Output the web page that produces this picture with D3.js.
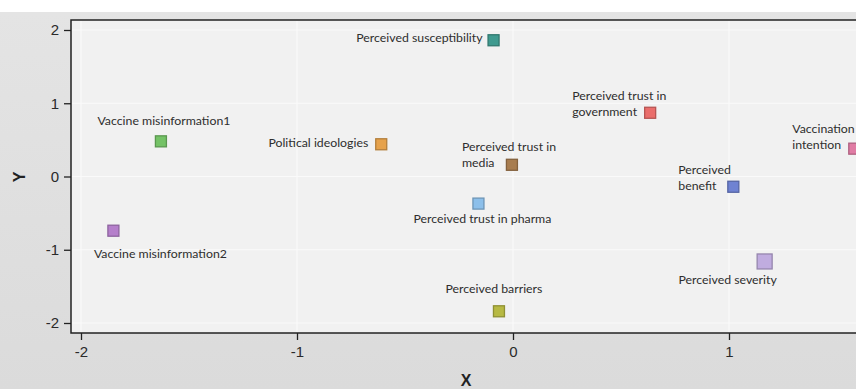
<!DOCTYPE html>
<html>
<head>
<meta charset="utf-8">
<script src="https://cdn.jsdelivr.net/npm/d3@7"></script>
<style>
  html, body { margin: 0; padding: 0; background: #fff; }
  svg { display: block; }
</style>
</head>
<body>
<svg id="chart" width="856" height="389"></svg>
<script>
// factor names, coordinates
const names = ["Perceived susceptibility", "Vaccine misinformation1", "Vaccine misinformation2",
  "Political ideologies", "Perceived trust in media", "Perceived trust in pharma",
  "Perceived barriers", "Perceived trust in government", "Vaccination intention",
  "Perceived benefit", "Perceived severity"];
const xs = [-0.09, -1.63, -1.85, -0.61, -0.005, -0.16, -0.065, 0.635, 1.58, 1.02, 1.165];
const ys = [1.86, 0.48, -0.74, 0.44, 0.16, -0.37, -1.84, 0.87, 0.38, -0.14, -1.16];
const colors = ["#3f9a8f", "#74c266", "#b57fcb", "#e6a24c", "#a87d50", "#8cbfea",
  "#b7b943", "#ea6d6b", "#e07ca4", "#6f82d2", "#c0acdf"];
const xTicks = [-2, -1, 0, 1];
const yTicks = [-2, -1, 0, 1, 2];

const svg = d3.select("#chart");
const W = 856, H = 389;
const plot = {left: 71, top: 20, right: 870, bottom: 333};

const x = d3.scaleLinear().domain([-2, 1]).range([81, 729]);
const y = d3.scaleLinear().domain([-2, 2]).range([323, 30]);

//Backgrounds
const grad = svg.append("defs").append("linearGradient")
  .attr("id", "bg").attr("x1", 0).attr("y1", 0).attr("x2", 0).attr("y2", 1);
grad.append("stop").attr("offset", "0%").attr("stop-color", "#e4e4e4");
grad.append("stop").attr("offset", "100%").attr("stop-color", "#dbdbdb");

svg.append("rect").attr("x", 0).attr("y", 12).attr("width", W).attr("height", H - 12)
  .attr("fill", "url(#bg)");
svg.append("rect").attr("x", plot.left).attr("y", plot.top)
  .attr("width", plot.right - plot.left).attr("height", plot.bottom - plot.top)
  .attr("fill", "#f1f1f1").attr("stroke", "#222").attr("stroke-width", 1.5);

//Grid
const grid = svg.append("g").attr("stroke", "#fafafa").attr("stroke-width", 1.2);
grid.selectAll(".gx").data(xTicks).enter().append("line")
  .attr("x1", d => x(d)).attr("x2", d => x(d))
  .attr("y1", plot.top + 1).attr("y2", plot.bottom - 1);
grid.selectAll(".gy").data(yTicks).enter().append("line")
  .attr("x1", plot.left + 1).attr("x2", W)
  .attr("y1", d => y(d)).attr("y2", d => y(d));

//Axes
const axisFont = "'Liberation Sans', Arial, sans-serif";
const fmt = d => String(d);
const xAxis = svg.append("g").attr("transform", `translate(0,${plot.bottom})`)
  .call(d3.axisBottom(x).tickValues(xTicks).tickFormat(fmt).tickSize(7).tickSizeOuter(0).tickPadding(6));
const yAxis = svg.append("g").attr("transform", `translate(${plot.left},0)`)
  .call(d3.axisLeft(y).tickValues(yTicks).tickFormat(fmt).tickSize(7).tickSizeOuter(0).tickPadding(5));
[xAxis, yAxis].forEach(a => {
  a.select(".domain").remove();
  a.selectAll("line").attr("stroke", "#222").attr("stroke-width", 1.3);
  a.selectAll("text").attr("fill", "#2a2a2a").style("font-family", axisFont).style("font-size", "15px");
});

svg.append("text").attr("x", 466).attr("y", 386).attr("text-anchor", "middle")
  .style("font-family", axisFont).style("font-size", "16px").style("font-weight", "bold")
  .attr("fill", "#222").text("X");
svg.append("text").attr("transform", "translate(25,177) rotate(-90)").attr("text-anchor", "middle")
  .style("font-family", axisFont).style("font-size", "16px").style("font-weight", "bold")
  .attr("fill", "#222").text("Y");

//Label placement: [dx, dy, anchor, lines]
const labelPos = {
  "Perceived susceptibility": [-11, -1, "end", ["Perceived susceptibility"]],
  "Vaccine misinformation1": [3, -19, "middle", ["Vaccine misinformation1"]],
  "Vaccine misinformation2": [47, 24, "middle", ["Vaccine misinformation2"]],
  "Political ideologies": [-13, 0, "end", ["Political ideologies"]],
  "Perceived trust in media": [-50, -17, "start", ["Perceived trust in", "media"]],
  "Perceived trust in pharma": [4, 16, "middle", ["Perceived trust in pharma"]],
  "Perceived barriers": [-5, -21, "middle", ["Perceived barriers"]],
  "Perceived trust in government": [-78, -16, "start", ["Perceived trust in", "government"]],
  "Vaccination intention": [-62, -19, "start", ["Vaccination", "intention"]],
  "Perceived benefit": [-55, -16, "start", ["Perceived", "benefit"]],
  "Perceived severity": [-37, 20, "middle", ["Perceived severity"]]
};

const pts = names.map((n, i) => ({name: n, x: xs[i], y: ys[i], color: colors[i]}));

const labels = svg.append("g").style("font-family", "Lato, 'Open Sans', sans-serif")
  .style("font-size", "12.3px").attr("fill", "#2e2e2e");
pts.forEach(p => {
  const [dx, dy, anchor, lines] = labelPos[p.name];
  const t = labels.append("text")
    .attr("x", x(p.x) + dx).attr("y", y(p.y) + dy)
    .attr("text-anchor", anchor).attr("dominant-baseline", "middle");
  lines.forEach((l, k) => t.append("tspan").attr("x", x(p.x) + dx).attr("dy", k ? 16 : 0).text(l));
});

//Markers
svg.append("g").selectAll("rect").data(pts).enter().append("rect")
  .attr("x", d => x(d.x) - (d.name === "Perceived severity" ? 7.5 : 5.5))
  .attr("y", d => y(d.y) - (d.name === "Perceived severity" ? 7.5 : 5.5))
  .attr("width", d => d.name === "Perceived severity" ? 15 : 11)
  .attr("height", d => d.name === "Perceived severity" ? 15 : 11)
  .attr("fill", d => d.color)
  .attr("stroke", d => d3.color(d.color).darker(0.7))
  .attr("stroke-width", 1.3);
</script>
</body>
</html>
